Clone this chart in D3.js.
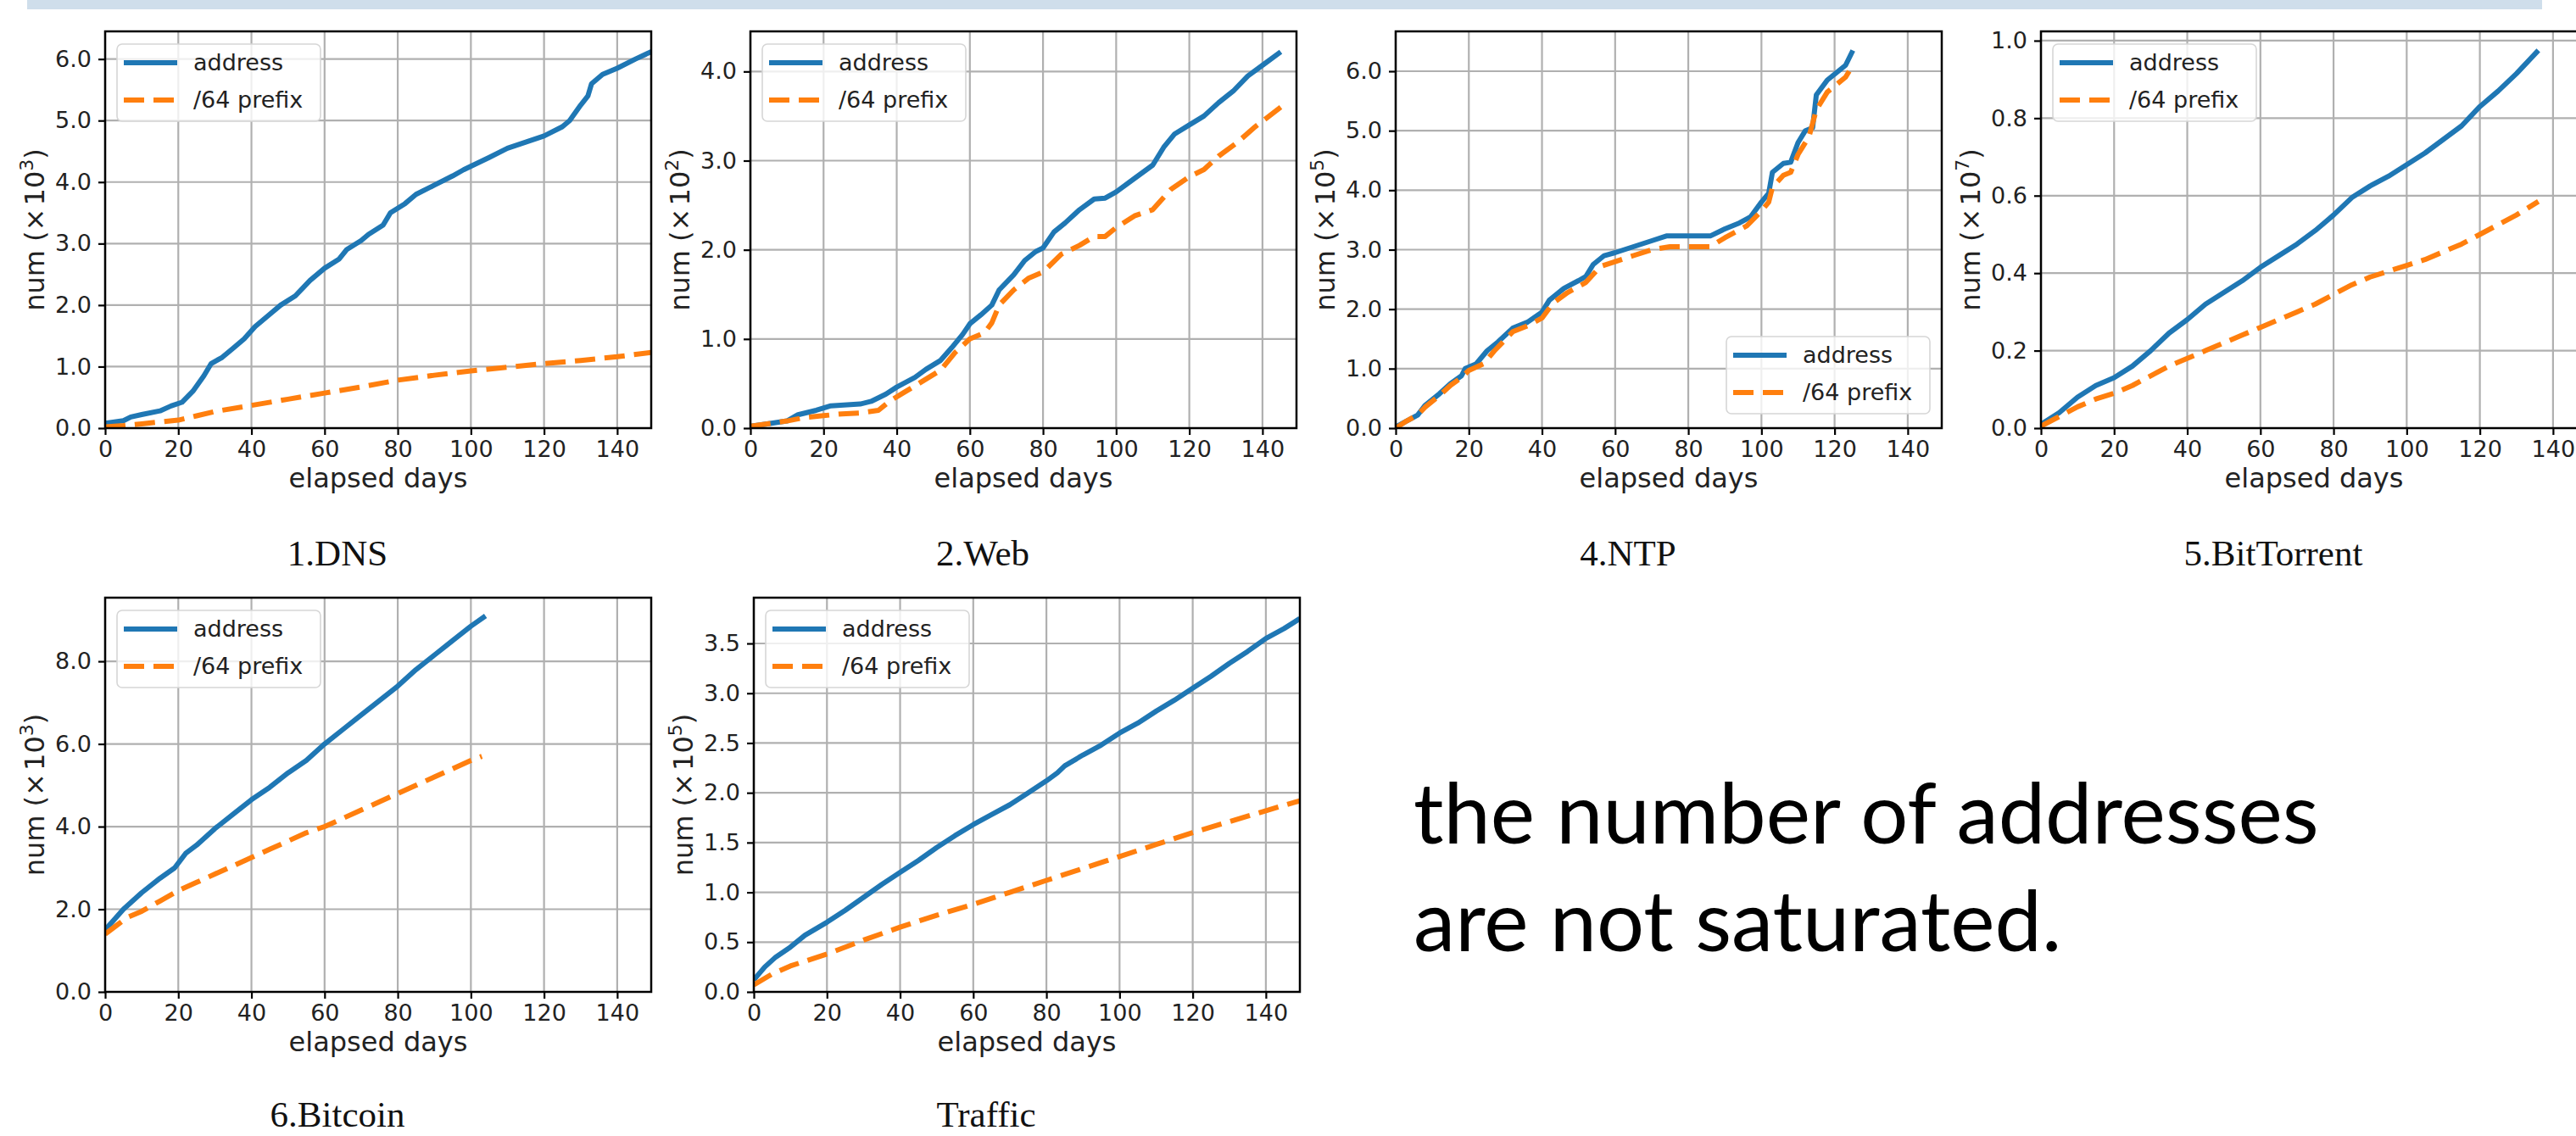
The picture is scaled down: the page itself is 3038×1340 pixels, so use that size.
<!DOCTYPE html>
<html>
<head>
<meta charset="utf-8">
<script src="https://cdn.jsdelivr.net/npm/d3@7.9.0/dist/d3.min.js"></script>
<style>
  html, body { margin: 0; padding: 0; background: #fff; }
  svg { display: block; }
</style>
</head>
<body>
<script>
// ─── DATA (in axis units) ───────────────────────────────────────────────────
const dnsDays    = [0, 5, 7, 10, 15, 18, 21, 24, 27, 29, 32, 35, 38, 41, 45, 48, 52, 56, 60, 64, 66, 70, 72, 76, 78, 82, 85, 90, 95, 98, 105, 110, 115, 120, 125, 127, 130, 132, 133, 136, 140, 145, 149.3];
const dnsAddress = [0.08, 0.12, 0.18, 0.22, 0.28, 0.36, 0.42, 0.6, 0.85, 1.05, 1.15, 1.3, 1.45, 1.65, 1.85, 2.0, 2.15, 2.4, 2.6, 2.75, 2.9, 3.05, 3.15, 3.3, 3.5, 3.65, 3.8, 3.95, 4.1, 4.2, 4.4, 4.55, 4.65, 4.75, 4.9, 5.0, 5.25, 5.4, 5.6, 5.75, 5.85, 6.0, 6.12];
const dnsPrefixDays = [0, 5, 10, 15, 20, 25, 30, 40, 50, 60, 70, 80, 90, 100, 110, 120, 130, 140, 149.3];
const dnsPrefix     = [0.02, 0.04, 0.07, 0.1, 0.13, 0.2, 0.27, 0.37, 0.47, 0.57, 0.67, 0.78, 0.86, 0.93, 0.99, 1.05, 1.1, 1.16, 1.23];

const webDays    = [0, 5, 10, 13, 18, 22, 30, 33, 37, 40, 45, 48, 52, 55, 58, 60, 63, 66, 68, 72, 75, 78, 80, 83, 86, 90, 94, 97, 100, 105, 110, 113, 116, 120, 124, 128, 132, 136, 140, 145];
const webAddress = [0.02, 0.05, 0.08, 0.15, 0.2, 0.25, 0.27, 0.3, 0.38, 0.46, 0.57, 0.66, 0.76, 0.9, 1.05, 1.17, 1.27, 1.38, 1.55, 1.72, 1.88, 1.98, 2.02, 2.2, 2.3, 2.45, 2.57, 2.58, 2.65, 2.8, 2.95, 3.15, 3.3, 3.4, 3.5, 3.65, 3.78, 3.95, 4.07, 4.22];
const webPrefixDays = [0, 5, 10, 15, 20, 25, 30, 35, 38, 42, 46, 52, 56, 60, 64, 66, 68, 72, 76, 80, 85, 90, 94, 97, 100, 105, 110, 115, 120, 124, 128, 133, 138, 145];
const webPrefix     = [0.02, 0.05, 0.08, 0.12, 0.14, 0.16, 0.17, 0.2, 0.3, 0.4, 0.5, 0.65, 0.85, 1.0, 1.07, 1.18, 1.38, 1.55, 1.68, 1.75, 1.95, 2.05, 2.15, 2.15, 2.25, 2.38, 2.45, 2.68, 2.82, 2.9, 3.05, 3.2, 3.38, 3.6];

const ntpDays    = [0, 3, 6, 8, 12, 15, 18, 19, 22, 25, 28, 32, 36, 40, 42, 46, 50, 52, 54, 57, 60, 65, 70, 74, 80, 86, 90, 94, 97, 100, 102, 103, 106, 108, 110, 112, 114, 115, 118, 121, 123, 125];
const ntpAddress = [0.02, 0.12, 0.22, 0.38, 0.58, 0.75, 0.88, 1.0, 1.08, 1.3, 1.45, 1.68, 1.78, 1.95, 2.15, 2.35, 2.48, 2.55, 2.75, 2.9, 2.95, 3.05, 3.15, 3.23, 3.23, 3.23, 3.35, 3.45, 3.55, 3.8, 3.95, 4.3, 4.45, 4.47, 4.8, 5.0, 5.05, 5.6, 5.85, 6.0, 6.1, 6.35];
const ntpPrefixDays = [0, 3, 6, 8, 12, 15, 18, 20, 24, 27, 32, 36, 40, 43, 47, 52, 56, 60, 65, 70, 75, 86, 90, 96, 100, 102, 103, 106, 108, 110, 113, 115, 118, 120, 123, 124];
const ntpPrefix     = [0.0, 0.12, 0.22, 0.35, 0.55, 0.72, 0.85, 0.97, 1.08, 1.3, 1.62, 1.72, 1.85, 2.1, 2.28, 2.45, 2.72, 2.8, 2.9, 3.0, 3.05, 3.05, 3.2, 3.4, 3.65, 3.8, 4.05, 4.25, 4.3, 4.6, 4.9, 5.35, 5.65, 5.75, 5.9, 6.0];

const btDays    = [0, 5, 10, 15, 20, 25, 30, 35, 40, 45, 50, 55, 60, 65, 70, 75, 80, 85, 90, 95, 100, 105, 110, 115, 120, 125, 130, 136];
const btAddress = [0.01, 0.04, 0.08, 0.11, 0.13, 0.16, 0.2, 0.245, 0.28, 0.32, 0.35, 0.38, 0.415, 0.445, 0.475, 0.51, 0.55, 0.595, 0.625, 0.65, 0.68, 0.71, 0.745, 0.78, 0.83, 0.87, 0.915, 0.975];
const btPrefix  = [0.005, 0.03, 0.055, 0.075, 0.09, 0.11, 0.135, 0.16, 0.18, 0.2, 0.22, 0.24, 0.26, 0.28, 0.3, 0.32, 0.345, 0.37, 0.39, 0.405, 0.42, 0.435, 0.455, 0.475, 0.5, 0.525, 0.55, 0.585];

const btcDays    = [0, 3, 5, 10, 15, 19, 22, 25, 30, 35, 40, 45, 50, 55, 60, 65, 70, 75, 80, 85, 90, 95, 100, 104];
const btcAddress = [1.5, 1.8, 2.0, 2.4, 2.75, 3.0, 3.35, 3.55, 3.95, 4.3, 4.65, 4.95, 5.3, 5.6, 6.0, 6.35, 6.7, 7.05, 7.4, 7.8, 8.15, 8.5, 8.85, 9.1];
const btcPrefixDays = [0, 3, 6, 10, 15, 20, 25, 30, 35, 40, 45, 50, 55, 60, 65, 70, 75, 80, 85, 90, 95, 100, 103];
const btcPrefix     = [1.4, 1.6, 1.8, 1.95, 2.2, 2.45, 2.65, 2.85, 3.05, 3.25, 3.45, 3.65, 3.85, 4.0, 4.2, 4.4, 4.6, 4.8, 5.0, 5.2, 5.4, 5.6, 5.7];

const trafficDays    = [0, 3, 6, 10, 14, 20, 25, 30, 35, 40, 45, 50, 55, 60, 65, 70, 75, 80, 83, 85, 90, 95, 100, 105, 110, 115, 120, 125, 130, 135, 140, 145, 149.3];
const trafficAddress = [0.12, 0.25, 0.35, 0.45, 0.57, 0.7, 0.82, 0.95, 1.08, 1.2, 1.32, 1.45, 1.57, 1.68, 1.78, 1.88, 2.0, 2.12, 2.2, 2.27, 2.38, 2.48, 2.6, 2.7, 2.82, 2.93, 3.05, 3.17, 3.3, 3.42, 3.55, 3.65, 3.75];
const trafficPrefixDays = [0, 5, 10, 20, 30, 40, 50, 60, 70, 80, 90, 100, 110, 120, 130, 140, 149.3];
const trafficPrefix     = [0.07, 0.18, 0.26, 0.38, 0.52, 0.65, 0.77, 0.88, 1.0, 1.12, 1.24, 1.36, 1.48, 1.6, 1.71, 1.82, 1.92];

// axis tick labels / limits
const xTicks = [0, 20, 40, 60, 80, 100, 120, 140];
const xMax = 149.3;
const panelTitles = ['1.DNS', '2.Web', '4.NTP', '5.BitTorrent', '6.Bitcoin', 'Traffic'];
const panelExps   = ['3', '2', '5', '7', '3', '5'];
const panelYMax   = [6.45, 4.45, 6.67, 1.024, 9.54, 3.96];
const panelYTicks = [
  [0, 1, 2, 3, 4, 5, 6],
  [0, 1, 2, 3, 4],
  [0, 1, 2, 3, 4, 5, 6],
  [0, 0.2, 0.4, 0.6, 0.8, 1.0],
  [0, 2, 4, 6, 8],
  [0, 0.5, 1, 1.5, 2, 2.5, 3, 3.5]
];
const seriesNames = ['address', '/64 prefix'];
const slideText = ['the number of addresses', 'are not saturated.'];

// ─── LAYOUT ─────────────────────────────────────────────────────────────────
const W = 3038, H = 1340;
const PW = 644;
const BLUE = '#1f77b4', ORANGE = '#ff7f0e';
const SANS = '"DejaVu Sans", sans-serif';
const FS = 27;      // ticks + legend
const LFS = 32;     // axis labels

const panels = [
  { left: 124,  top: 37,  h: 468, addrX: dnsDays,     addr: dnsAddress,     preX: dnsPrefixDays,     pre: dnsPrefix,     legend: 'ul' },
  { left: 885,  top: 37,  h: 468, addrX: webDays,     addr: webAddress,     preX: webPrefixDays,     pre: webPrefix,     legend: 'ul' },
  { left: 1646, top: 37,  h: 468, addrX: ntpDays,     addr: ntpAddress,     preX: ntpPrefixDays,     pre: ntpPrefix,     legend: 'lr' },
  { left: 2407, top: 37,  h: 468, addrX: btDays,      addr: btAddress,      preX: btDays,            pre: btPrefix,      legend: 'ul' },
  { left: 124,  top: 705, h: 465, addrX: btcDays,     addr: btcAddress,     preX: btcPrefixDays,     pre: btcPrefix,     legend: 'ul' },
  { left: 889,  top: 705, h: 465, addrX: trafficDays, addr: trafficAddress, preX: trafficPrefixDays, pre: trafficPrefix, legend: 'ul' }
];

const svg = d3.select('body').append('svg')
    .attr('width', W)
    .attr('height', H);

// slide header strip
svg.append('rect')
    .attr('x', 32).attr('y', 0)
    .attr('width', 2966).attr('height', 11)
    .attr('fill', '#cfdeeb');

panels.forEach((p, i) => drawPanel(p, i));

// ─── DRAW ONE SUBPLOT ───────────────────────────────────────────────────────
function drawPanel(p, i) {
  const g = svg.append('g').attr('transform', `translate(${p.left},${p.top})`);
  const x = d3.scaleLinear().domain([0, xMax]).range([0, PW]);
  const y = d3.scaleLinear().domain([0, panelYMax[i]]).range([p.h, 0]);

  g.append('clipPath').attr('id', 'clip' + i)
    .append('rect').attr('width', PW).attr('height', p.h);

  // grid
  const grid = g.append('g').attr('stroke', '#b0b0b0').attr('stroke-width', 2.2);
  grid.selectAll('.gx').data(xTicks).join('line')
      .attr('x1', d => x(d)).attr('x2', d => x(d))
      .attr('y1', 0).attr('y2', p.h);
  grid.selectAll('.gy').data(panelYTicks[i]).join('line')
      .attr('x1', 0).attr('x2', PW)
      .attr('y1', d => y(d)).attr('y2', d => y(d));

  // series
  const line = d3.line()
    .x(d => x(d[0]))
    .y(d => y(d[1]));
  const plot = g.append('g').attr('clip-path', `url(#clip${i})`);
  plot.append('path')
      .datum(d3.zip(p.addrX, p.addr))
      .attr('fill', 'none')
      .attr('stroke', BLUE)
      .attr('stroke-width', 6)
      .attr('stroke-linejoin', 'round')
      .attr('d', line);
  plot.append('path')
      .datum(d3.zip(p.preX, p.pre))
      .attr('fill', 'none')
      .attr('stroke', ORANGE)
      .attr('stroke-width', 6)
      .attr('stroke-dasharray', '24,11')
      .attr('stroke-linejoin', 'round')
      .attr('d', line);

  // axes
  const xAxis = g.append('g')
      .attr('transform', `translate(0,${p.h})`)
      .call(d3.axisBottom(x).tickValues(xTicks).tickSize(8).tickSizeOuter(0).tickPadding(7));
  const yAxis = g.append('g')
      .call(d3.axisLeft(y).tickValues(panelYTicks[i]).tickFormat(d3.format('.1f'))
        .tickSize(8).tickSizeOuter(0).tickPadding(8));
  [xAxis, yAxis].forEach(ax => {
    ax.select('.domain').remove();
    ax.selectAll('line').attr('stroke', '#000').attr('stroke-width', 2.2);
    ax.selectAll('text')
      .attr('fill', '#222')
      .style('font-family', SANS)
      .style('font-size', FS + 'px');
  });

  // spines
  g.append('rect')
      .attr('width', PW).attr('height', p.h)
      .attr('fill', 'none')
      .attr('stroke', '#000')
      .attr('stroke-width', 2.5);

  // axis labels
  g.append('text')
      .attr('x', PW / 2).attr('y', p.h + 70)
      .attr('text-anchor', 'middle')
      .attr('fill', '#222')
      .style('font-family', SANS).style('font-size', LFS + 'px')
      .text('elapsed days');

  const yl = g.append('text')
      .attr('transform', `translate(-72,${p.h / 2}) rotate(-90)`)
      .attr('text-anchor', 'middle')
      .attr('fill', '#222')
      .style('font-family', SANS).style('font-size', LFS + 'px');
  yl.append('tspan').text('num (\u00d7\u200a10');
  yl.append('tspan').attr('dy', -13).style('font-size', '22px').text(panelExps[i]);
  yl.append('tspan').attr('dy', 13).text(')');

  // legend
  const bw = 240, bh = 91;
  const bx = p.legend === 'lr' ? PW - 14 - bw : 14;
  const by = p.legend === 'lr' ? p.h - 17 - bh : 15;
  const lg = g.append('g').attr('transform', `translate(${bx},${by})`);
  lg.append('rect')
      .attr('width', bw).attr('height', bh)
      .attr('rx', 6)
      .attr('fill', '#fff').attr('fill-opacity', 0.8)
      .attr('stroke', '#d6d6d6').attr('stroke-width', 1.6);
  seriesNames.forEach((name, k) => {
    const ry = 22 + k * 44;
    lg.append('line')
        .attr('x1', 8).attr('x2', 71)
        .attr('y1', ry).attr('y2', ry)
        .attr('stroke', k === 0 ? BLUE : ORANGE)
        .attr('stroke-width', 6)
        .attr('stroke-dasharray', k === 0 ? null : '24,11');
    lg.append('text')
        .attr('x', 90).attr('y', ry)
        .attr('dy', '0.35em')
        .attr('fill', '#222')
        .style('font-family', SANS).style('font-size', FS + 'px')
        .text(name);
  });

  // subfigure caption
  svg.append('text')
      .attr('x', p.left + 274)
      .attr('y', p.top < 100 ? 667 : 1329)
      .attr('text-anchor', 'middle')
      .attr('fill', '#111')
      .style('font-family', '"Liberation Serif", "DejaVu Serif", serif')
      .style('font-size', '43px')
      .text(panelTitles[i]);
}

// ─── SLIDE TEXT ─────────────────────────────────────────────────────────────
const note = svg.append('g')
    .style('font-family', 'Lato, "Open Sans", sans-serif')
    .attr('fill', '#000');
const lines = note.selectAll('text').data(slideText).join('text')
    .attr('x', 1667)
    .attr('y', (d, k) => 995 + k * 127)
    .style('font-size', '100px')
    .text(d => d);
// scale font so the first line spans the same width as on the slide
const w0 = lines.node().getComputedTextLength();
lines.style('font-size', (100 * 1068 / w0).toFixed(1) + 'px');
</script>
</body>
</html>
